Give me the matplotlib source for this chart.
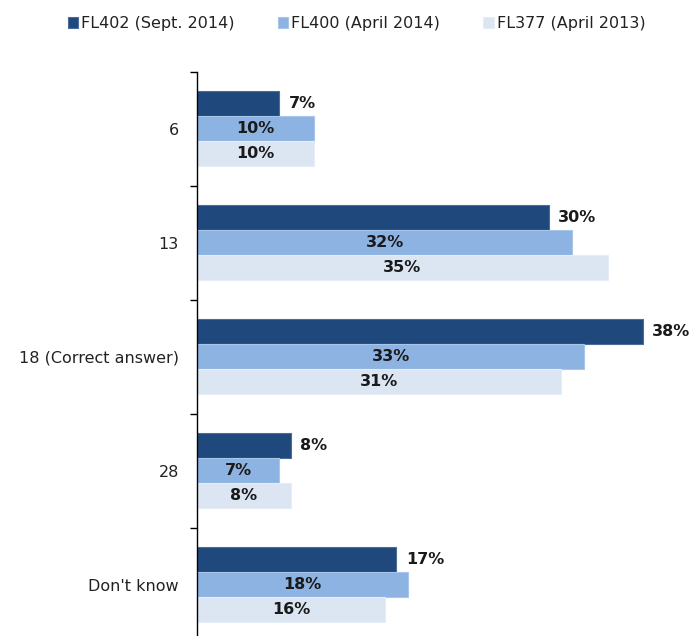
import matplotlib.pyplot as plt
import numpy as np

# data
categories = ['6', '13', '18 (Correct answer)', '28', "Don't know"]
series_names = ['FL402 (Sept. 2014)', 'FL400 (April 2014)', 'FL377 (April 2013)']
fl402 = [7, 30, 38, 8, 17]
fl400 = [10, 32, 33, 7, 18]
fl377 = [10, 35, 31, 8, 16]
colors = ['#1F497D', '#8DB3E2', '#DCE6F2']
edges = ['#4A6E9C', '#A9C5EA', '#E6EDF6']

fig = plt.figure(figsize=(6.99, 6.36), dpi=100)
ax = fig.add_axes([0.2818, -0.0094, 0.705, 0.8962])

y = np.arange(len(categories))
h = 25 / 114
values = [fl402, fl400, fl377]
for i, vals in enumerate(values):
    pos = y + (i - 1) * h
    ax.barh(pos, vals, height=h, color=colors[i], edgecolor=edges[i],
            linewidth=0.8, label=series_names[i])
    for p, v in zip(pos, vals):
        if i == 0:
            ax.text(v + 0.8, p, f'{v}%', va='center', ha='left',
                    fontsize=11.5, fontweight='bold', color='#1a1a1a')
        else:
            ax.text(v / 2, p, f'{v}%', va='center', ha='center',
                    fontsize=11.5, fontweight='bold', color='#1a1a1a')

ax.set_ylim(len(categories) - 0.5, -0.5)
ax.set_xlim(0, 42)
ax.set_yticks(y)
ax.set_yticklabels(categories, fontsize=11.5, color='#222222')
ax.tick_params(axis='y', which='major', length=0, pad=13)
ax.set_yticks(np.arange(len(categories) + 1) - 0.5, minor=True)
ax.tick_params(axis='y', which='minor', length=5, width=1, direction='out')
ax.set_xticks([])
for s in ['top', 'right', 'bottom']:
    ax.spines[s].set_visible(False)
ax.spines['left'].set_linewidth(1)

fig.legend(loc='upper center', bbox_to_anchor=(0.51, 0.997), ncol=3,
           frameon=False, fontsize=11.5, handlelength=0.65, handleheight=0.65,
           handletextpad=0.2, columnspacing=2.7, labelcolor='#222222')

plt.savefig('out.png', dpi=100)
